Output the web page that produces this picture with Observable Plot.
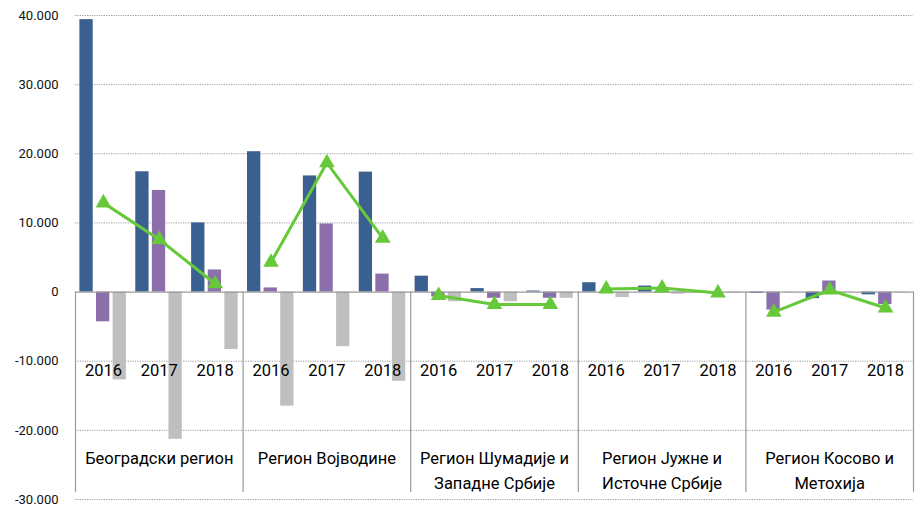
<!DOCTYPE html>
<html>
<head>
<meta charset="utf-8">
<script src="https://cdn.jsdelivr.net/npm/d3@7"></script>
<script src="https://cdn.jsdelivr.net/npm/@observablehq/plot@0.6"></script>
<style>
  html, body { margin: 0; padding: 0; background: #fff; }
</style>
</head>
<body>
<div id="chart"></div>
<script>
// ---- data ----
const regions = [
  "Београдски регион",
  "Регион Војводине",
  "Регион Шумадије и\nЗападне Србије",
  "Регион Јужне и\nИсточне Србије",
  "Регион Косово и\nМетохија"
];
const years = ["2016", "2017", "2018"];
// order: region by region, 2016..2018
const seriesBlue   = [39400, 17400, 10000, 20300, 16800, 17350, 2300, 500, 150, 1350, 870, 50, -200, -950, -400];
const seriesPurple = [-4300, 14700, 3200, 600, 9850, 2600, -700, -900, -900, -100, 100, 0, -2600, 1600, -1800];
const seriesGray   = [-12700, -21300, -8300, -16500, -7900, -12900, -1400, -1400, -900, -800, -300, -150, -50, -50, -50];
const seriesGreen  = [12900, 7600, 1200, 4300, 18700, 7800, -500, -1800, -1800, 430, 580, -150, -2900, 300, -2300];
const yTicks = [-30000, -20000, -10000, 0, 10000, 20000, 30000, 40000];

// ---- table ----
const rows = [];
regions.forEach((r, i) => years.forEach((yr, j) => {
  const k = i * years.length + j;
  rows.push({region: r, year: yr, key: r + "|" + yr,
    blue: seriesBlue[k], purple: seriesPurple[k], gray: seriesGray[k], green: seriesGreen[k]});
}));
const keys = rows.map(d => d.key);
const firstKeys = rows.filter(d => d.year === years[0]);
const lastKey = rows.slice(-1);
const midRows = rows.filter(d => d.year === years[1]);

// ---- layout ----
const W = 915, H = 505, ML = 75, MR = 2, MT = 15, MB = 6;
const bw = (W - ML - MR) / keys.length;
const barW = 13.3, gap = 3.3, off = 4.4;
const inset = i => ({insetLeft: off + i * (barW + gap), insetRight: bw - (off + i * (barW + gap) + barW)});

const fmt = d => d === 0 ? "0" : (d < 0 ? "-" : "") + d3.format(",")(Math.abs(d)).replace(/,/g, ".");

const chart = Plot.plot({
  width: W, height: H,
  marginLeft: ML, marginRight: MR, marginTop: MT, marginBottom: MB,
  style: {fontFamily: "Roboto, 'Open Sans', sans-serif", fontSize: "13px", color: "#000", background: "#fff", overflow: "visible"},
  x: {type: "band", domain: keys, padding: 0, round: false, axis: null},
  y: {domain: [-30000, 40000], axis: null},
  marks: [
    Plot.gridY(yTicks.filter(d => d !== 0), {stroke: "#9a9a9a", strokeOpacity: 1, strokeDasharray: "1.2,1.2", strokeWidth: 1}),
    Plot.axisY(yTicks, {tickSize: 0, tickPadding: 17, tickFormat: fmt, fontSize: 13, fill: "#111", label: null}),
    Plot.barY(rows, {x: "key", y: "blue", fill: "#3a5f91", ...inset(0)}),
    Plot.barY(rows, {x: "key", y: "purple", fill: "#8b6fab", ...inset(1)}),
    Plot.barY(rows, {x: "key", y: "gray", fill: "#bfbfbf", ...inset(2)}),
    Plot.ruleY([0], {stroke: "#9a9a9a", strokeWidth: 1.2}),
    Plot.ruleX(firstKeys, {x: "key", y1: 0, y2: -29000, dx: -bw / 2, stroke: "#9a9a9a", strokeWidth: 1.2}),
    Plot.ruleX(lastKey, {x: "key", y1: 0, y2: -29000, dx: bw / 2, stroke: "#9a9a9a", strokeWidth: 1.2}),
    Plot.lineY(rows, {x: "key", y: "green", z: "region", stroke: "#66c93a", strokeWidth: 3}),
    Plot.dot(rows, {x: "key", y: "green", symbol: "triangle", r: 5.8, fill: "#66c93a", stroke: "none"}),
    Plot.text(rows, {x: "key", text: "year", frameAnchor: "bottom", dy: -123.5, fontSize: 16.5, fill: "#000"}),
    Plot.text(midRows, {x: "key", text: "region", frameAnchor: "bottom", lineAnchor: "top", dy: -53, lineHeight: 1.5, fontSize: 16.5, fill: "#000"})
  ]
});
document.getElementById("chart").appendChild(chart);
</script>
</body>
</html>
